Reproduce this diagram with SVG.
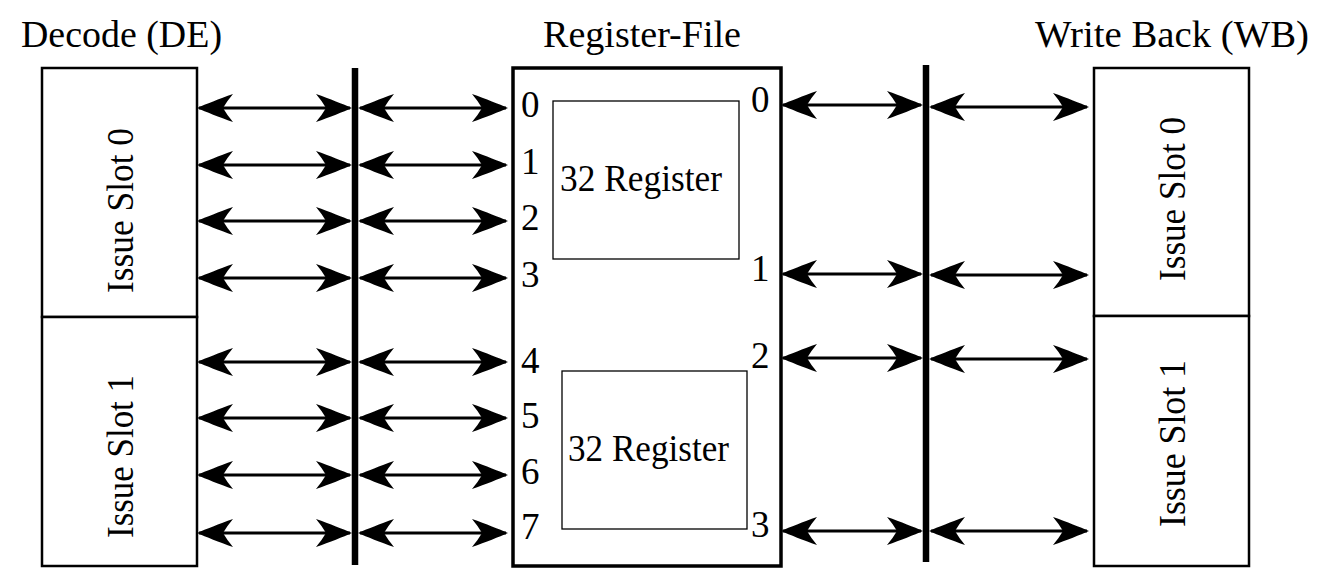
<svg xmlns="http://www.w3.org/2000/svg" width="1323" height="583" viewBox="0 0 1323 583">
<style>
text{font-family:"Liberation Serif","DejaVu Serif",serif;font-size:37px;fill:#000}
.box{fill:#fff;stroke:#000;stroke-width:2.5}
.rf{fill:#fff;stroke:#000;stroke-width:3.5}
.inner{fill:none;stroke:#000;stroke-width:1.3}
.bus{stroke:#000;stroke-width:6.5}
.arr{stroke:#000;stroke-width:3;fill:none;marker-start:url(#ah);marker-end:url(#ah)}
</style>
<defs>
<marker id="ah" viewBox="0 0 40 32" refX="37" refY="16" markerWidth="40" markerHeight="32" markerUnits="userSpaceOnUse" orient="auto-start-reverse" overflow="visible">
<path d="M39,16 C30,12 17,7 3,2 Q9,9 13,16 Q9,23 3,30 C17,25 30,20 39,16 Z" fill="#000"/>
</marker>
</defs>
<rect width="1323" height="583" fill="#fff"/>
<g id="title-de"><text x="21" y="47" textLength="201" lengthAdjust="spacingAndGlyphs">Decode (DE)</text></g>
<g id="title-rf"><text x="543" y="47" textLength="198" lengthAdjust="spacingAndGlyphs">Register-File</text></g>
<g id="title-wb"><text x="1035" y="47" textLength="274" lengthAdjust="spacingAndGlyphs">Write Back (WB)</text></g>
<g id="de-slot0">
<rect class="box" x="42" y="68" width="155" height="249"/>
<text transform="translate(133,210.5) rotate(-90)" text-anchor="middle" textLength="165" lengthAdjust="spacingAndGlyphs">Issue Slot 0</text>
</g>
<g id="de-slot1">
<rect class="box" x="42" y="317" width="155" height="249"/>
<text transform="translate(133,456.5) rotate(-90)" text-anchor="middle" textLength="163" lengthAdjust="spacingAndGlyphs">Issue Slot 1</text>
</g>
<g id="wb-slot0">
<rect class="box" x="1094" y="68" width="155" height="248"/>
<text transform="translate(1185,199) rotate(-90)" text-anchor="middle" textLength="164" lengthAdjust="spacingAndGlyphs">Issue Slot 0</text>
</g>
<g id="wb-slot1">
<rect class="box" x="1094" y="316" width="155" height="250"/>
<text transform="translate(1185,443.5) rotate(-90)" text-anchor="middle" textLength="167" lengthAdjust="spacingAndGlyphs">Issue Slot 1</text>
</g>
<g id="bus-left"><line class="bus" x1="355" y1="68" x2="355" y2="565"/></g>
<g id="bus-right"><line class="bus" x1="926" y1="65" x2="926" y2="562"/></g>
<g id="register-file">
<rect class="rf" x="513" y="68" width="268" height="498"/>
<text x="521" y="117">0</text>
<text x="521" y="174">1</text>
<text x="521" y="230">2</text>
<text x="521" y="287">3</text>
<text x="521" y="373">4</text>
<text x="521" y="428">5</text>
<text x="521" y="484">6</text>
<text x="521" y="539">7</text>
<text x="751" y="112">0</text>
<text x="751" y="281">1</text>
<text x="751" y="368">2</text>
<text x="751" y="537">3</text>
</g>
<g id="bank0">
<rect class="inner" x="553" y="101" width="186" height="158"/>
<text x="560" y="191" textLength="162" lengthAdjust="spacingAndGlyphs">32 Register</text>
</g>
<g id="bank1">
<rect class="inner" x="562" y="371" width="185" height="158"/>
<text x="568" y="461" textLength="161" lengthAdjust="spacingAndGlyphs">32 Register</text>
</g>
<g id="connectors">
<line class="arr" x1="199" y1="108" x2="350" y2="108"/><line class="arr" x1="360" y1="108" x2="506" y2="108"/>
<line class="arr" x1="199" y1="165" x2="350" y2="165"/><line class="arr" x1="360" y1="165" x2="506" y2="165"/>
<line class="arr" x1="199" y1="221" x2="350" y2="221"/><line class="arr" x1="360" y1="221" x2="506" y2="221"/>
<line class="arr" x1="199" y1="278" x2="350" y2="278"/><line class="arr" x1="360" y1="278" x2="506" y2="278"/>
<line class="arr" x1="199" y1="362" x2="350" y2="362"/><line class="arr" x1="360" y1="362" x2="506" y2="362"/>
<line class="arr" x1="199" y1="418" x2="350" y2="418"/><line class="arr" x1="360" y1="418" x2="506" y2="418"/>
<line class="arr" x1="199" y1="475" x2="350" y2="475"/><line class="arr" x1="360" y1="475" x2="506" y2="475"/>
<line class="arr" x1="199" y1="533" x2="350" y2="533"/><line class="arr" x1="360" y1="533" x2="506" y2="533"/>
<line class="arr" x1="783" y1="105" x2="921" y2="105"/><line class="arr" x1="931" y1="107" x2="1087" y2="107"/>
<line class="arr" x1="783" y1="274" x2="921" y2="274"/><line class="arr" x1="931" y1="275" x2="1087" y2="275"/>
<line class="arr" x1="783" y1="358" x2="921" y2="358"/><line class="arr" x1="931" y1="359" x2="1087" y2="359"/>
<line class="arr" x1="783" y1="531" x2="921" y2="531"/><line class="arr" x1="931" y1="531" x2="1087" y2="531"/>
</g>
</svg>
